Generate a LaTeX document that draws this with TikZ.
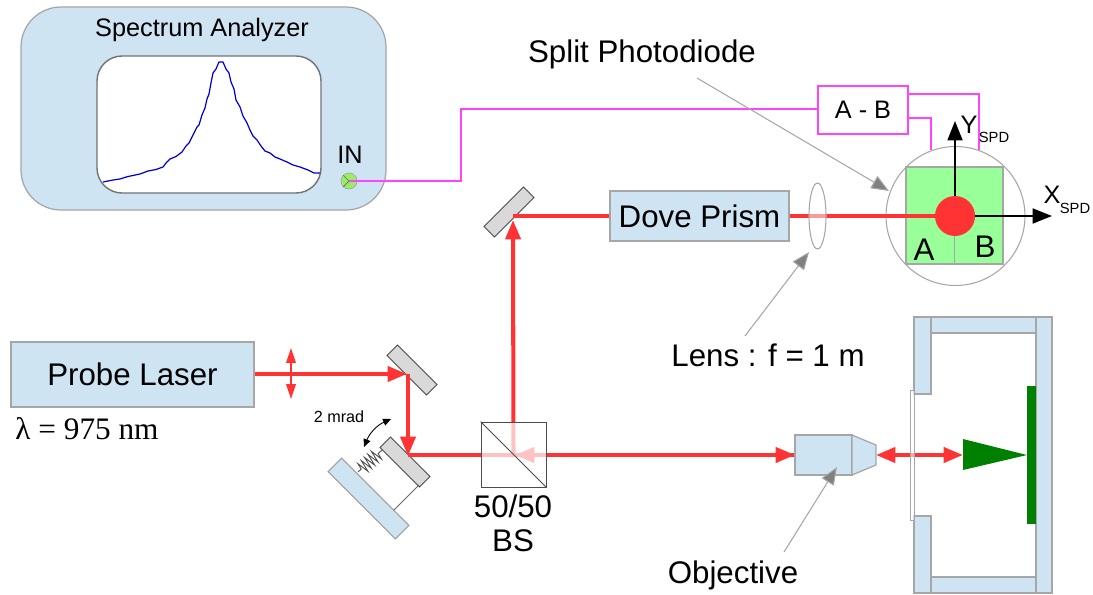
\documentclass[tikz,border=0pt]{standalone}
\usepackage{fontspec}
\setmainfont{Liberation Sans}
\newfontfamily\serifface{Liberation Serif}
\usepackage{tikz}
\usetikzlibrary{positioning,arrows.meta,decorations.pathmorphing,shapes.geometric}
\definecolor{Pale}{HTML}{CFE4F3}
\definecolor{Edge}{HTML}{A6A6A6}
\definecolor{Beam}{HTML}{FF3333}
\definecolor{Wire}{HTML}{FF44FF}
\definecolor{Diode}{HTML}{99FF99}
\definecolor{Port}{HTML}{99EE66}
\definecolor{Sample}{HTML}{008000}
\definecolor{Plate}{HTML}{D9D9D9}
\tikzset{
  big/.style={font=\fontsize{17.8}{21}\selectfont},
  mid/.style={font=\fontsize{14.4}{18}\selectfont},
  tiny/.style={font=\fontsize{8.4}{10}\selectfont},
  part/.style={draw=Edge,fill=Pale,line width=0.7pt},
  box/.style={part,rectangle,inner sep=0pt},
  mirror/.style={draw=black!70,fill=Plate,line width=0.5pt,minimum width=1.12cm,minimum height=0.3cm,inner sep=0pt},
  beam/.style={Beam,line width=2.3pt},
  wire/.style={Wire,line width=1.2pt},
  leader/.style={Edge,line width=0.6pt,-{Triangle[length=10pt,width=8pt,fill=gray]}},
  axis/.style={black,line width=1.1pt,-{Triangle[length=11pt,width=8.5pt]}},
  btip/.tip={Triangle[length=11pt,width=8.5pt]},
  stip/.tip={Triangle[length=8.5pt,width=5.5pt]}
}
\begin{document}
\begin{tikzpicture}[x=0.02cm,y=-0.02cm]
  \useasboundingbox (0,0) rectangle (1093,595);

  \draw[part,rounded corners=0.8cm] (21,7) rectangle (386,210);
  \draw[draw=black!55,fill=white,line width=0.8pt,rounded corners=0.5cm] (97,56) rectangle (321,193);
  \node[mid] (analyzer) at (202,30) {Spectrum Analyzer};
  \draw[blue!85!black,line width=0.7pt,line join=round] plot coordinates {(103,182) (113,180) (120,179) (128,176.5) (133,175.5) (140,174) (148,171) (156,169.5) (163,167) (166,163) (170,159) (176,156.5) (182,152) (186,146) (189,143) (193,135) (197,127) (199,125) (202,115) (205,108) (207,99) (209,94) (211,83) (213,73) (216,69) (219,62) (223,62) (226,69) (229,73) (231,82) (234,89) (236,100) (240,107) (243,116) (247,123) (250,130) (253,136) (257,140) (261,146) (265,151) (270,153) (275,157) (280,159) (287,162) (293,165) (300,167) (308,170) (314,173) (320,173)};
  \node[mid] (inlabel) at (350,155) {IN};
  \node[circle,draw=Edge,fill=Port,minimum size=0.32cm,inner sep=0pt] (port) at (349,181) {};
  \draw[black!60,line width=0.4pt] (port.north west) -- (port.center) -- (port.south west);

  \node[big] (splitlabel) at (642,54) {Split Photodiode};
  \node[draw=Wire,line width=1.2pt,fill=white,minimum width=1.8cm,minimum height=0.96cm,inner sep=0pt,mid] (diff) at (863,110) {A - B};
  \node[circle,draw=Edge,line width=0.6pt,minimum size=2.78cm,inner sep=0pt] (head) at (955.5,216) {};
  \draw[wire] (port.center) -- (461,181) -- (461,109) -- (diff.west |- 0,109);
  \draw[wire] (diff.east |- 0,94) -- (979,94) -- (979,150);
  \draw[wire] (diff.east |- 0,118) -- (931,118) -- (931,150);

  \node[draw=Edge,fill=Diode,line width=0.7pt,minimum width=1.94cm,minimum height=1.94cm,inner sep=0pt] (diode) at (954.5,215.5) {};
  \draw[Edge,line width=0.7pt] (diode.center) -- (diode.south);
  \node[big] (padA) at (924,250) {A};
  \node[big] (padB) at (985,247) {B};

  \node[box,minimum width=4.86cm,minimum height=1.3cm,big] (laser) at (132.5,374.5) {Probe Laser};
  \node[font=\fontsize{17.8}{21}\serifface\selectfont] (lambda) at (87,429) {λ = 975 nm};

  \node[mirror,rotate=-45] (foldA) at (412,370) {};
  \node[mirror,rotate=45] (foldB) at (509,212) {};
  \node[mirror,rotate=-45] (tilt) at (405,462) {};
  \node[part,rotate=-45,minimum width=1.9cm,minimum height=0.38cm,inner sep=0pt] (mount) at (368.5,498.5) {};
  \draw[black!60,line width=0.5pt] (394,510) -- (419,485);
  \draw[black!70,line width=0.5pt,decorate,decoration={zigzag,segment length=2.6pt,amplitude=3.6pt,pre length=2.5pt,post length=2.5pt}] (358,472) -- (382,450);
  \node[font=\fontsize{9.2}{11}\selectfont] (tiltlabel) at (339,417) {2 mrad};
  \coordinate (tiltstart) at (364,447);
  \coordinate (tiltend) at (391,419);
  \draw[black,line width=0.5pt,{Triangle[length=4.5pt,width=4pt]}-{Triangle[length=4.5pt,width=4pt]}] (tiltstart) to[bend left=22] (tiltend);

  \coordinate (hitA) at (408,374);
  \coordinate (hitB) at (408,455);
  \coordinate (hitC) at (513,216);
  \coordinate (bsmid) at (513.5,455);
  \coordinate (backtip) at (515,455);
  \coordinate (uptip) at (513,220);
  \coordinate (downtip) at (408,456);
  \coordinate (righttip) at (407,374);
  \coordinate (wobbleup) at (291,348);
  \coordinate (wobbledown) at (291,399);
  \coordinate (spot) at (955,216);
  \coordinate (objin) at (795,455);
  \coordinate (objout) at (876,455);
  \coordinate (sampletip) at (963,455);
  \coordinate (ytip) at (955,121);
  \coordinate (xtip) at (1052,216);

  \node[box,minimum width=3.58cm,minimum height=1cm,big] (dove) at (699.5,216) {Dove Prism};

  \draw[beam,-btip] (laser.east |- hitA) -- (righttip);
  \draw[beam,-btip] (hitA) -- (downtip);
  \draw[Beam,line width=0.7pt,stip-stip] (wobbleup) -- (wobbledown);
  \draw[beam,-btip] (bsmid) -- (uptip);
  \draw[beam] (hitC) -- (dove.west);
  \draw[beam] (dove.east) -- (spot);
  \draw[beam,-btip] (hitB) -- (objin);
  \draw[beam,-btip] (objin) -- (backtip);
  \draw[beam,btip-btip] (objout) -- (sampletip);

  \node[draw=black!70,fill=white,fill opacity=0.7,line width=0.5pt,minimum size=1.3cm,inner sep=0pt] (bs) at (513.5,454.5) {};
  \draw[black!70,line width=0.5pt] (bs.north west) -- (bs.south east);
  \node[align=center,font=\fontsize{17.8}{19.5}\selectfont] (bslabel) at (513,523) {50/50\\BS};

  \node[ellipse,draw=Edge,fill=white,fill opacity=0.5,line width=0.6pt,minimum width=0.34cm,minimum height=1.32cm,inner sep=0pt] (lens) at (817.5,216) {};
  \node[circle,fill=Beam,minimum size=0.8cm,inner sep=0pt] (beamspot) at (spot) {};
  \draw[axis] (beamspot.north) -- (ytip);
  \draw[axis] (beamspot.east) -- (xtip);
  \node[mid] (ylabel) at (969,125) {Y};
  \node[tiny] (yspd) at (994,137) {SPD};
  \node[mid] (xlabel) at (1052,195) {X};
  \node[tiny] (xspd) at (1075,208) {SPD};

  \draw[part] (795,435) rectangle (852,475);
  \draw[part] (852,435) -- (876,445) -- (876,465) -- (852,475) -- cycle;
  \node[big] (objlabel) at (733,575) {Objective};
  \node[big] (lenslabel) at (768,355) {Lens : f = 1 m};

  \coordinate (splitfrom) at (697,78);
  \coordinate (splitto) at (889,191);
  \coordinate (lensfrom) at (745,336);
  \coordinate (lensto) at (809,252);
  \coordinate (objfrom) at (784,552);
  \coordinate (objto) at (837,467);
  \draw[leader] (splitfrom) -- (splitto);
  \draw[leader] (lensfrom) -- (lensto);
  \draw[leader] (objfrom) -- (objto);

  \draw[part] (914,317) rectangle (931,394);
  \draw[part] (914,516) rectangle (931,593);
  \draw[part] (931,317) rectangle (1036,333);
  \draw[part] (931,577) rectangle (1036,593);
  \draw[part] (1036,317) rectangle (1052,593);
  \draw[Edge,fill=white,fill opacity=0.55,line width=0.5pt] (910,390) rectangle (914,520);
  \fill[Sample] (1027,386) rectangle (1036,524);
  \fill[Sample] (963,439) -- (1027,455) -- (963,470) -- cycle;
\end{tikzpicture}
\end{document}
